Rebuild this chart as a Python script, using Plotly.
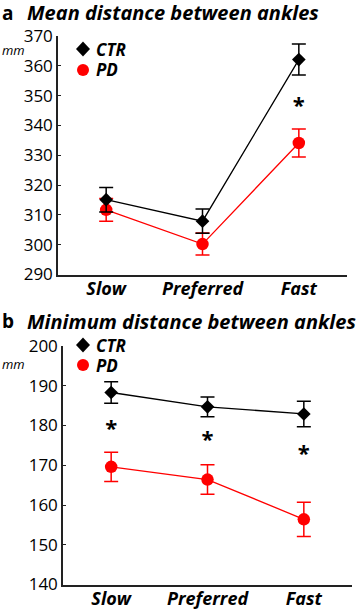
import plotly.graph_objects as go

categories = ["Slow", "Preferred", "Fast"]

# Panel a: mean distance between ankles (mm)
a_ctr = [315.1, 307.9, 362.1]
a_ctr_err = [4.1, 4.1, 5.2]
a_pd = [311.7, 300.2, 334.1]
a_pd_err = [3.8, 3.7, 4.7]
a_star = [None, None, 346.0]

# Panel b: minimum distance between ankles (mm)
b_ctr = [188.3, 184.7, 182.9]
b_ctr_err = [2.7, 2.5, 3.2]
b_pd = [169.6, 166.4, 156.4]
b_pd_err = [3.7, 3.7, 4.3]
b_star = [178.8, 175.9, 172.5]

a_ticks = [290, 300, 310, 320, 330, 340, 350, 360, 370]
b_ticks = [140, 150, 160, 170, 180, 190, 200]

legend_labels = ["CTR", "PD"]

W, H = 358, 609
FONT = "Open Sans"
xpos = list(range(len(categories)))

fig = go.Figure()

def add_panel(xa, ya, ctr, ctr_err, pd, pd_err, stars):
    fig.add_trace(go.Scatter(
        x=xpos, y=pd, mode="lines+markers", name="PD",
        line=dict(color="#ff0000", width=1.3),
        marker=dict(symbol="circle", size=12.5, color="#ff0000"),
        error_y=dict(type="data", array=pd_err, color="#ff0000", thickness=1.5, width=7),
        xaxis=xa, yaxis=ya, showlegend=False))
    fig.add_trace(go.Scatter(
        x=xpos, y=ctr, mode="lines+markers", name="CTR",
        line=dict(color="#000000", width=1.3),
        marker=dict(symbol="diamond", size=10.5, color="#000000"),
        error_y=dict(type="data", array=ctr_err, color="#000000", thickness=1.5, width=7),
        xaxis=xa, yaxis=ya, showlegend=False))
    sx = [i for i, s in zip(xpos, stars) if s is not None]
    sy = [s for s in stars if s is not None]
    fig.add_trace(go.Scatter(
        x=sx, y=sy, mode="text", text=["<b>*</b>"] * len(sx),
        textfont=dict(size=22, family=FONT, color="black"),
        textposition="middle center",
        xaxis=xa, yaxis=ya, showlegend=False, hoverinfo="skip", cliponaxis=False))

add_panel("x", "y", a_ctr, a_ctr_err, a_pd, a_pd_err, a_star)
add_panel("x2", "y2", b_ctr, b_ctr_err, b_pd, b_pd_err, b_star)

axis_common = dict(showgrid=False, zeroline=False, showline=True, linecolor="#222",
                   linewidth=1.5, automargin=False)
xcommon = dict(range=[-0.5, 2.5], tickvals=xpos,
               ticktext=["<b><i>%s</i></b>" % c for c in categories],
               ticks="", ticklabelstandoff=-3, tickfont=dict(size=18, family=FONT), **axis_common)
ycommon = dict(ticks="inside", ticklen=3, tickcolor="#222",
               tickfont=dict(size=17, family=FONT), **axis_common)

fig.update_layout(
    width=W, height=H,
    margin=dict(l=0, r=0, t=0, b=0, autoexpand=False),
    paper_bgcolor="white", plot_bgcolor="rgba(0,0,0,0)",
    font=dict(family=FONT, color="black"),
    xaxis=dict(domain=[58 / W, 347 / W], anchor="y", **xcommon),
    yaxis=dict(domain=[1 - 274.5 / H, 1 - 36 / H], anchor="x", range=[290, 370],
               tickvals=a_ticks, **ycommon),
    xaxis2=dict(domain=[63 / W, 352 / W], anchor="y2", **xcommon),
    yaxis2=dict(domain=[1 - 584.5 / H, 1 - 346 / H], anchor="x2", range=[140, 200],
                tickvals=b_ticks, **ycommon),
)

def ann(x, y, text, size):
    fig.add_annotation(x=x / W, y=1 - y / H, xref="paper", yref="paper", text=text,
                       showarrow=False, xanchor="left", yanchor="middle",
                       font=dict(size=size, family=FONT, color="black"))

ann(0, 13, "<b>a</b>", 19)
ann(25, 13, "<b><i>Mean distance between ankles</i></b>", 20)
ann(0, 321, "<b>b</b>", 19)
ann(25, 321, "<b><i>Minimum distance between ankles</i></b>", 20)
ann(0, 50, "<i>mm</i>", 13)
ann(0, 364, "<i>mm</i>", 13)

# in-plot legends (paper-positioned pixel shapes + text)
def legend(y_ctr, y_pd):
    cx = 83 / W
    fig.add_shape(type="path", xref="paper", yref="paper", xsizemode="pixel", ysizemode="pixel",
                  xanchor=cx, yanchor=1 - y_ctr / H, path="M -7 0 L 0 7.5 L 7 0 L 0 -7.5 Z",
                  fillcolor="black", line=dict(width=0))
    fig.add_shape(type="circle", xref="paper", yref="paper", xsizemode="pixel", ysizemode="pixel",
                  xanchor=cx, yanchor=1 - y_pd / H, x0=-6, x1=6, y0=-6, y1=6,
                  fillcolor="#ff0000", line=dict(width=0))
    ann(94, y_ctr, "<b><i>%s</i></b>" % legend_labels[0], 17)
    ann(94, y_pd, "<b><i>%s</i></b>" % legend_labels[1], 17)

legend(49, 70)
legend(345, 365)

fig.write_html("out.html", config={"displayModeBar": False},
               post_script="document.body.style.margin='0px';")
